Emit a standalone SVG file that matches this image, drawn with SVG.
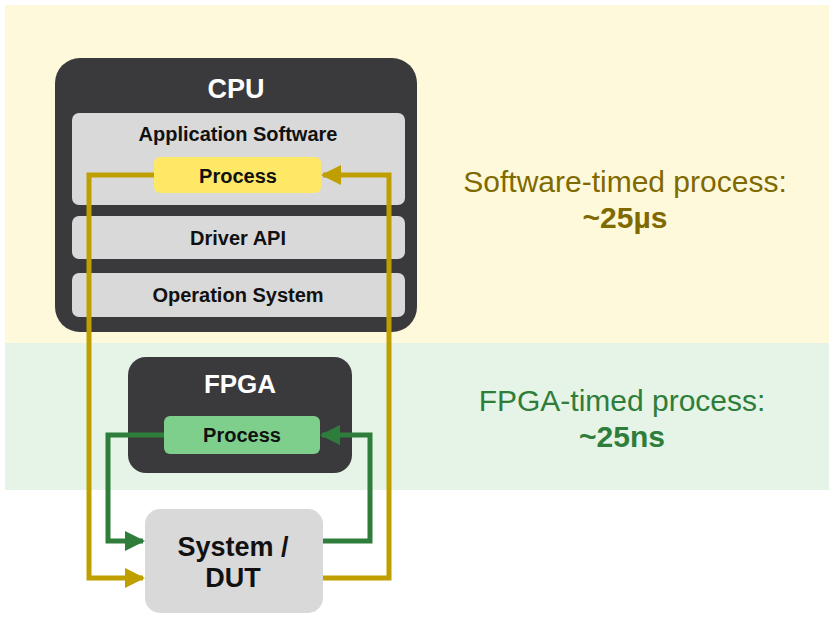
<svg xmlns="http://www.w3.org/2000/svg" width="834" height="629" viewBox="0 0 834 629">
<style>
text{font-family:"Liberation Sans",Arial,sans-serif;font-weight:bold;text-anchor:middle}
.dark{fill:#3a3a3c}
.layer{fill:#d9d9d9}
.gold{fill:none;stroke:#bf9f00;stroke-width:5}
.green{fill:none;stroke:#2e7d3a;stroke-width:5}
</style>
<defs>
<marker id="ag" viewBox="0 0 10 10" refX="9" refY="5" markerWidth="4" markerHeight="4" orient="auto" markerUnits="strokeWidth"><path d="M0,0L10,5L0,10z" fill="#bf9f00"/></marker>
<marker id="an" viewBox="0 0 10 10" refX="9" refY="5" markerWidth="4" markerHeight="4" orient="auto" markerUnits="strokeWidth"><path d="M0,0L10,5L0,10z" fill="#2e7d3a"/></marker>
</defs>
<rect width="834" height="629" fill="#fff"/>
<rect x="5" y="5" width="824" height="338" fill="#fff9dc"/>
<rect x="5" y="343" width="824" height="147" fill="#e5f4e6"/>
<g id="cpu">
<rect class="dark" x="55" y="58" width="362" height="274" rx="25"/>
<text x="236" y="98" font-size="27" fill="#fff">CPU</text>
</g>
<g id="app"><rect class="layer" x="72" y="113" width="333" height="92" rx="7"/>
<text x="238" y="141" font-size="20" fill="#111">Application Software</text></g>
<g id="cpu-process"><rect x="154" y="157" width="167" height="36" rx="6" fill="#ffe866"/>
<text x="238" y="183" font-size="20" fill="#111">Process</text></g>
<g id="driver"><rect class="layer" x="72" y="216" width="333" height="43" rx="7"/>
<text x="238" y="245" font-size="20" fill="#111">Driver API</text></g>
<g id="os"><rect class="layer" x="72" y="273" width="333" height="44" rx="7"/>
<text x="238" y="302" font-size="20" fill="#111">Operation System</text></g>
<g id="fpga"><rect class="dark" x="128" y="357" width="224" height="116" rx="18"/>
<text x="240" y="393" font-size="26" fill="#fff">FPGA</text></g>
<g id="fpga-process"><rect x="164" y="416" width="156" height="38" rx="6" fill="#7dcf8b"/>
<text x="242" y="442" font-size="20" fill="#111">Process</text></g>
<g id="dut"><rect class="layer" x="145" y="509" width="178" height="104" rx="15"/>
<text x="233" y="556" font-size="27" fill="#111">System /</text>
<text x="233" y="587" font-size="27" fill="#111">DUT</text></g>
<g id="connectors">
<path class="gold" d="M154,175H89V578H143" marker-end="url(#ag)"/>
<path class="gold" d="M323,578H389V175H323" marker-end="url(#ag)"/>
<path class="green" d="M164,435H108V541H143" marker-end="url(#an)"/>
<path class="green" d="M323,541H370V435H322" marker-end="url(#an)"/>
</g>
<g id="labels">
<text x="625" y="192" font-size="30" fill="#7f6a00" style="font-weight:normal">Software-timed process:</text>
<text x="625" y="228" font-size="30" fill="#7f6a00">~25µs</text>
<text x="622" y="411" font-size="30" fill="#2e7d3a" style="font-weight:normal">FPGA-timed process:</text>
<text x="622" y="447" font-size="30" fill="#2e7d3a">~25ns</text>
</g>
</svg>
